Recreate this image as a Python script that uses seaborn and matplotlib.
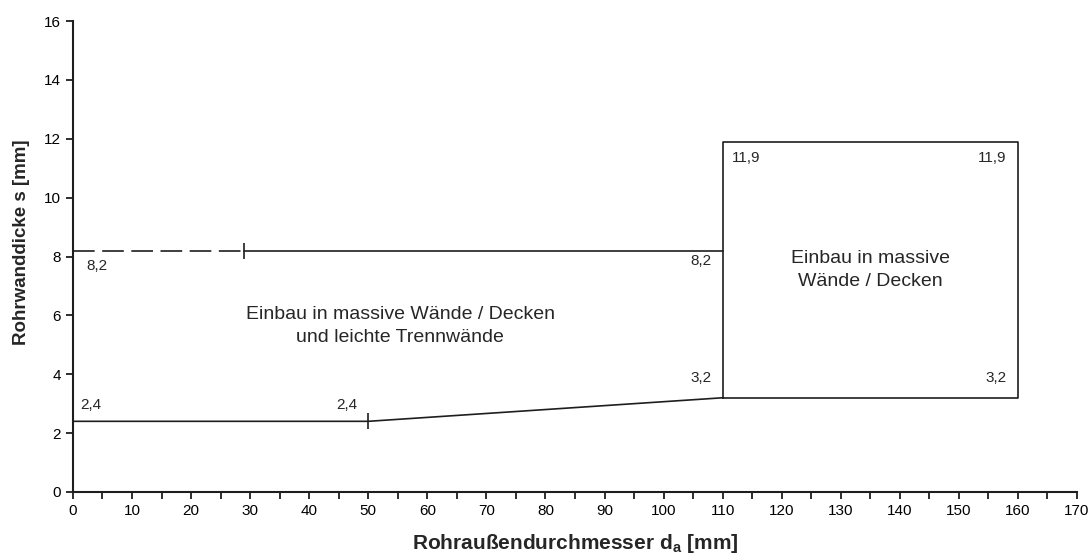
import matplotlib
matplotlib.use("Agg")
import matplotlib.pyplot as plt
import seaborn as sns
from matplotlib.ticker import MultipleLocator

# boundary lines of the application ranges
lower_x = [0, 50, 110]
lower_y = [2.4, 2.4, 3.2]
upper_dash_x = [0, 29]
upper_solid_x = [29, 110]
upper_y = 8.2
box_x = [110, 110, 160, 160, 110]
box_y = [3.2, 11.9, 11.9, 3.2, 3.2]

# value labels (x, y, text, alignment, offset in points)
value_labels = [
    (0, 8.2, "8,2", "left", (10, -6)),
    (110, 8.2, "8,2", "right", (-8, -2.5)),
    (0, 2.4, "2,4", "left", (5, 7)),
    (50, 2.4, "2,4", "right", (-8, 7)),
    (110, 3.2, "3,2", "right", (-8, 9)),
    (160, 3.2, "3,2", "right", (-8, 9)),
    (110, 11.9, "11,9", "left", (7, -7)),
    (160, 11.9, "11,9", "right", (-8, -7)),
]

sns.set_style("ticks")
plt.rcParams["font.family"] = ["Liberation Sans", "DejaVu Sans"]

fig = plt.figure(figsize=(10.89, 5.54), dpi=100)
ax = fig.add_axes([0.067, 0.112, 0.922, 0.850])

lc = "#1e1e1e"
sns.lineplot(x=lower_x, y=lower_y, ax=ax, color=lc, lw=1.2, sort=False)
ax.plot(upper_dash_x, [upper_y] * 2, color=lc, lw=1.2, dashes=(13, 4.5))
ax.plot(upper_solid_x, [upper_y] * 2, color=lc, lw=1.2)
ax.plot(box_x, box_y, color=lc, lw=1.2)
# small cross marks
ax.plot([upper_dash_x[1]], [upper_y], marker="|", ms=11, mew=1.2, color=lc)
ax.plot([lower_x[1]], [lower_y[1]], marker="|", ms=11, mew=1.2, color=lc)

for x, y, t, ha, off in value_labels:
    ax.annotate(t, (x, y), xytext=off, textcoords="offset points",
                ha=ha, va="bottom" if off[1] > 0 else "top", fontsize=11)

ax.text(55.4, 5.64, "Einbau in massive Wände / Decken\nund leichte Trennwände",
        ha="center", va="center", fontsize=14, linespacing=1.45)
ax.text(135, 7.55, "Einbau in massive\nWände / Decken",
        ha="center", va="center", fontsize=14, linespacing=1.45)

ax.set_xlim(0, 170)
ax.set_ylim(0, 16)
ax.xaxis.set_major_locator(MultipleLocator(10))
ax.xaxis.set_minor_locator(MultipleLocator(5))
ax.yaxis.set_major_locator(MultipleLocator(2))
ax.tick_params(which="both", direction="out", length=5, width=1.3, colors=lc, labelsize=11)
ax.tick_params(labelcolor="black")
for s in ["left", "bottom"]:
    ax.spines[s].set_linewidth(1.5)
    ax.spines[s].set_color(lc)
sns.despine(ax=ax)

ax.set_xlabel("Rohraußendurchmesser d$_\\mathregular{a}$ [mm]", fontsize=15,
              fontweight="bold", labelpad=10)
ax.set_ylabel("Rohrwanddicke s [mm]", fontsize=13.5, fontweight="bold")
ax.yaxis.set_label_coords(-0.043, 0.53)

fig.savefig("out.png", dpi=100)
